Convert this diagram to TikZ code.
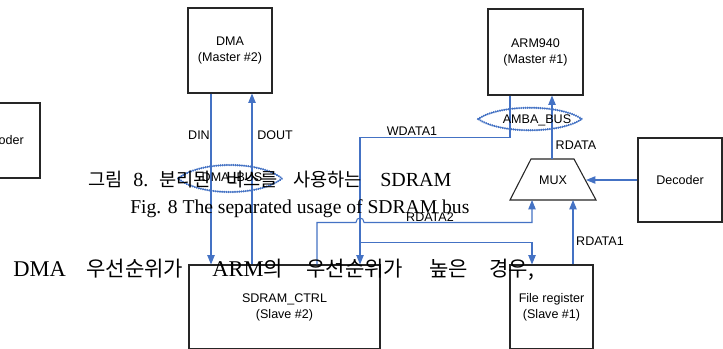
\documentclass[tikz,border=0pt]{standalone}
\usepackage{fontspec}
\setmainfont{Liberation Serif}
\newfontfamily\krfont{Noto Sans CJK KR}
\newfontfamily\labfont{Liberation Sans}
\usetikzlibrary{arrows.meta,calc}
\definecolor{busblue}{HTML}{4472C4}

\begin{document}
\begin{tikzpicture}[x=0.75pt,y=-0.75pt,
  blk/.style={draw=black!85, line width=0.8pt, inner sep=0pt, align=center,
    font=\labfont\fontsize{9.4pt}{12pt}\selectfont},
  lbl/.style={inner sep=0pt, font=\labfont\fontsize{9.4pt}{12pt}\selectfont},
  wire/.style={draw=busblue, line width=0.8pt},
  arr/.style={wire, -{Triangle[length=7pt,width=5.5pt]}},
  lens/.style={draw=busblue, line width=1.8pt, dash pattern=on 0.01pt off 1.6pt, line cap=round},
  c1lat/.style={inner sep=0pt, anchor=base west, font=\fontsize{15pt}{18pt}\selectfont},
  c1kr/.style={inner sep=0pt, anchor=base west, font=\krfont\fontsize{14pt}{17pt}\selectfont},
  c2/.style={inner sep=0pt, anchor=base west, font=\fontsize{14.7pt}{17pt}\selectfont},
  c3lat/.style={inner sep=0pt, anchor=base west, font=\fontsize{16.9pt}{20pt}\selectfont},
  c3kr/.style={inner sep=0pt, anchor=base west, font=\krfont\fontsize{15.8pt}{19pt}\selectfont}
]
\useasboundingbox (0,0) rectangle (723,349);
\fill[white] (0,0) rectangle (723,349);
\clip (0,0) rectangle (723,349);

% blocks
\node[blk, minimum width=63pt, minimum height=63.75pt] (dma) at (230,50.5) {DMA\\(Master \#2)};
\node[blk, minimum width=71.25pt, minimum height=64.5pt] (arm) at (535.5,52) {ARM940\\(Master \#1)};
\node[blk, minimum width=60pt, minimum height=56.25pt] (decL) at (0,140.5) {Decoder};
\node[blk, minimum width=63pt, minimum height=63pt] (decR) at (680,180) {Decoder};
\node[blk, minimum width=143.25pt, minimum height=63pt] (sdram) at (284.5,307) {SDRAM\_CTRL\\(Slave \#2)};
\node[blk, minimum width=62.25pt, minimum height=63pt] (freg) at (551.5,307) {File register\\(Slave \#1)};

% multiplexer
\node[lbl] (mux) at (553,180) {MUX};
\draw[draw=black!85, line width=0.8pt] ($(mux)+(-43,20)$) -- ($(mux)+(-22,-21)$)
  -- ($(mux)+(21,-21)$) -- ($(mux)+(43,20)$) -- cycle;

% ports
\coordinate (dmaDIN)  at ($(dma.south)+(-19,0)$);
\coordinate (dmaDOUT) at ($(dma.south)+(22,0)$);
\coordinate (armW)    at ($(arm.south)+(-25.5,0)$);
\coordinate (armR)    at ($(arm.south)+(16.5,0)$);
\coordinate (sdDIN)   at ($(sdram.north)+(-73.5,0)$);
\coordinate (sdDOUT)  at ($(sdram.north)+(-32.5,0)$);
\coordinate (sdR2)    at ($(sdram.north)+(32.5,0)$);
\coordinate (sdW)     at ($(sdram.north)+(75.5,0)$);
\coordinate (frW)     at ($(freg.north)+(-19.5,0)$);
\coordinate (frR1)    at ($(freg.north)+(21.5,0)$);
\coordinate (muxTop)  at ($(mux)+(-1,-21)$);
\coordinate (muxIn2)  at ($(mux)+(-21,20)$);
\coordinate (muxIn1)  at ($(mux)+(20,20)$);
\coordinate (muxSel)  at ($(mux)+(33,0)$);
\coordinate (wsplit)  at ($(sdW)+(0,-22)$);
\coordinate (hopL)    at ($(sdW)+(-4,-42)$);
\coordinate (hopR)    at ($(sdW)+(4,-42)$);

% connectors
\draw[arr] (dmaDIN) -- (sdDIN);
\draw[arr] (sdDOUT) -- (dmaDOUT);
\draw[arr] (armW) -- ++(0,42) -| (sdW);
\draw[arr] (wsplit) -| (frW);
\draw[arr] (muxTop) -- (armR);
\draw[arr] (sdR2) |- (hopL) .. controls ($(hopL)+(0,-6)$) and ($(hopR)+(0,-6)$) .. (hopR) -| (muxIn2);
\draw[arr] (frR1) -- (muxIn1);
\draw[arr] (decR.west) -- (muxSel);

% signal labels
\node[lbl] (lDIN)  at (199,135) {DIN};
\node[lbl] (lDOUT) at (275,135) {DOUT};
\node[lbl] (lWD1)  at (412,131) {WDATA1};
\node[lbl] (lRD)   at (576,145) {RDATA};
\node[lbl] (lRD2)  at (430,217) {RDATA2};
\node[lbl] (lRD1)  at (600,241) {RDATA1};

% buses
\node[lbl] (amba) at (537,120) {AMBA\_BUS};
\draw[lens] ($(amba)+(-59,-1)$) .. controls ($(amba)+(-37,-16)$) and ($(amba)+(23,-16)$) .. ($(amba)+(45,-1)$)
  .. controls ($(amba)+(23,14)$) and ($(amba)+(-37,14)$) .. cycle;
\node[lbl] (dmabus) at (232,178) {DMA\_BUS};
\draw[lens] ($(dmabus)+(-54,0.5)$) .. controls ($(dmabus)+(-32,-17.5)$) and ($(dmabus)+(28,-17.5)$) .. ($(dmabus)+(50,0.5)$)
  .. controls ($(dmabus)+(28,18.5)$) and ($(dmabus)+(-32,18.5)$) .. cycle;

% caption lines
\node[c1kr]  (c1a) at (88,186)  {그림};
\node[c1lat] (c1b) at (133,186) {8.};
\node[c1kr]  (c1c) at (159,186) {분리된};
\node[c1kr]  (c1d) at (226,186) {버스를};
\node[c1kr]  (c1e) at (293,186) {사용하는};
\node[c1lat] (c1f) at (380,186) {SDRAM};
\node[c2]    (c2)  at (130,213) {Fig. 8 The separated usage of SDRAM bus};

\node[c3lat] (c3a) at (13,276)  {DMA};
\node[c3kr]  (c3b) at (86,276)  {우선순위가};
\node[c3lat] (c3c) at (212,276) {ARM{\krfont\fontsize{15.8pt}{19pt}\selectfont 의}};
\node[c3kr]  (c3d) at (306,276) {우선순위가};
\node[c3kr]  (c3e) at (429,276) {높은};
\node[c3kr]  (c3f) at (489,276) {경우,};
\end{tikzpicture}
\end{document}
